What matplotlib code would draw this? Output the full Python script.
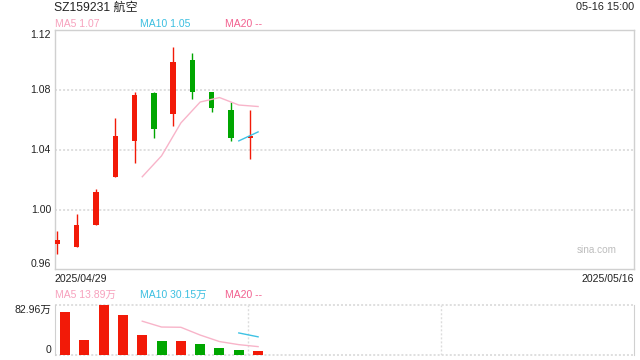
import matplotlib
matplotlib.use("Agg")
import matplotlib.pyplot as plt

plt.rcParams['font.family'] = ['Liberation Sans', 'Noto Sans CJK SC', 'DejaVu Sans']
plt.rcParams['lines.scale_dashes'] = False

# ---- data ----
dates = ["2025/04/29", "2025/04/30", "2025/05/06", "2025/05/07", "2025/05/08", "2025/05/09",
         "2025/05/12", "2025/05/13", "2025/05/14", "2025/05/15", "2025/05/16"]
opens = [0.977, 0.975, 0.990, 1.022, 1.046, 1.078, 1.064, 1.100, 1.079, 1.067, 1.048]
highs = [0.986, 0.997, 1.014, 1.061, 1.079, 1.079, 1.109, 1.105, 1.079, 1.072, 1.067]
lows = [0.970, 0.975, 0.990, 1.022, 1.031, 1.048, 1.056, 1.074, 1.065, 1.046, 1.034]
closes = [0.980, 0.990, 1.012, 1.049, 1.077, 1.054, 1.099, 1.079, 1.068, 1.048, 1.049]
volumes = [71.8, 25.4, 82.96, 66.4, 33.7, 23.5, 23.6, 18.5, 12.0, 8.6, 6.9]  # 万

ma5_price = [None, None, None, None, 1.022, 1.036, 1.058, 1.072, 1.075, 1.070, 1.069]
ma10_price = [None] * 9 + [1.046, 1.052]
ma5_vol = [None, None, None, None, 56.1, 46.4, 46.0, 33.1, 22.3, 17.2, 13.9]
ma10_vol = [None] * 9 + [36.6, 30.15]

price_ticks = [0.96, 1.00, 1.04, 1.08, 1.12]
price_tick_labels = ["0.96", "1.00", "1.04", "1.08", "1.12"]
vol_max_label = "82.96万"
title = "SZ159231 航空"
timestamp = "05-16 15:00"
legend_price = ["MA5 1.07", "MA10 1.05", "MA20 --"]
legend_vol = ["MA5 13.89万", "MA10 30.15万", "MA20 --"]

# ---- style ----
RED = '#f21a08'
GREEN = '#00a600'
MA5_C = '#f8b4c9'
MA10_C = '#3ec2e4'
MA5_T = '#f7a1bd'
MA10_T = '#3bbfe0'
MA20_T = '#f2608f'
SPINE = '#d0d0d0'
GRID = '#dcdcdc'
TXT = '#222222'

W, H = 640, 360
fig = plt.figure(figsize=(6.4, 3.6), dpi=100)
L, R = 54.5, 633.8
ax = fig.add_axes([L / W, 1 - 269.4 / H, (R - L) / W, (269.4 - 30.3) / H])
axv = fig.add_axes([L / W, 1 - 355 / H, (R - L) / W, (355 - 305) / H])

n = len(closes)
xs = list(range(n))
XL = (-0.145, 29.86)
MA_SHIFT = 0.4

# ---- price panel ----
for i in xs:
    o, c, hi, lo = opens[i], closes[i], highs[i], lows[i]
    col = RED if c >= o else GREEN
    ax.vlines(i, lo, hi, color=col, lw=1.0, zorder=3)
    h = max(abs(c - o), 0.0016)
    ax.bar(i, h, bottom=min(o, c), width=0.28, color=col, zorder=4, linewidth=0)

mx5 = [i + MA_SHIFT for i in xs if ma5_price[i] is not None]
my5 = [v for v in ma5_price if v is not None]
ax.plot(mx5, my5, color=MA5_C, lw=1.0, zorder=5)
mx10 = [i + MA_SHIFT for i in xs if ma10_price[i] is not None]
my10 = [v for v in ma10_price if v is not None]
ax.plot(mx10, my10, color=MA10_C, lw=1.0, zorder=5)

ax.set_xlim(*XL)
ax.set_ylim(price_ticks[0], price_ticks[-1])
for t in price_ticks[1:-1]:
    ax.axhline(t, color=GRID, lw=1.3, linestyle=(0, (1.45, 1.45)), zorder=1)
ax.set_xticks([])
ax.set_yticks([])
for s in ax.spines.values():
    s.set_color(SPINE)
    s.set_linewidth(1.0)

ytr = ax.get_yaxis_transform()
for t, lab in zip(price_ticks, price_tick_labels):
    va = 'top' if t == price_ticks[-1] else ('bottom' if t == price_ticks[0] else 'center')
    ax.text(-0.006, t, lab, transform=ytr, ha='right', va=va, fontsize=7.6, color=TXT)

# header texts
fig.text(L / W, 1 - 7.5 / H, title, ha='left', va='center', fontsize=8.7, color=TXT)
fig.text(R / W, 1 - 7.5 / H, timestamp, ha='right', va='center', fontsize=7.8, color=TXT)
for xpx, lab, col in zip([55, 140, 225], legend_price, [MA5_T, MA10_T, MA20_T]):
    fig.text(xpx / W, 1 - 24 / H, lab, ha='left', va='center', fontsize=7.5, color=col)

fig.text(L / W, 1 - 278.5 / H, dates[0], ha='left', va='center', fontsize=7.6, color=TXT)
fig.text(R / W, 1 - 278.5 / H, dates[-1], ha='right', va='center', fontsize=7.6, color=TXT)
ax.text(0.97, 0.08, "sina.com", transform=ax.transAxes, ha='right', va='center',
        fontsize=7.2, color='#bdbdbd')

# ---- volume panel ----
for i in xs:
    col = RED if closes[i] >= opens[i] else GREEN
    axv.bar(i + MA_SHIFT, volumes[i], width=0.52, color=col, linewidth=0, zorder=3)
vx5 = [i + MA_SHIFT for i in xs if ma5_vol[i] is not None]
vy5 = [v for v in ma5_vol if v is not None]
axv.plot(vx5, vy5, color=MA5_C, lw=1.0, zorder=4)
vx10 = [i + MA_SHIFT for i in xs if ma10_vol[i] is not None]
vy10 = [v for v in ma10_vol if v is not None]
axv.plot(vx10, vy10, color=MA10_C, lw=1.0, zorder=4)

axv.set_xlim(*XL)
axv.set_ylim(0, max(volumes))
axv.set_xticks([])
axv.set_yticks([])
axv.spines['left'].set_color(SPINE)
axv.spines['right'].set_color(SPINE)
axv.spines['top'].set_visible(False)
axv.spines['bottom'].set_visible(False)
dot = (0, (1.45, 1.45))
axv.plot([0, 1], [1, 1], transform=axv.transAxes, color=GRID, lw=1.3, linestyle=dot, clip_on=False, zorder=1)
axv.plot([0, 1], [0, 0], transform=axv.transAxes, color=GRID, lw=1.3, linestyle=dot, clip_on=False, zorder=1)
for fx in (1 / 3, 2 / 3):
    axv.plot([fx, fx], [0, 1], transform=axv.transAxes, color=GRID, lw=1.0, linestyle=dot, zorder=1)

vtr = axv.get_yaxis_transform()
axv.text(-0.006, max(volumes), vol_max_label, transform=vtr, ha='right', va='top', fontsize=7.6, color=TXT)
axv.text(-0.006, 0, "0", transform=vtr, ha='right', va='bottom', fontsize=7.6, color=TXT)
for xpx, lab, col in zip([55, 140, 225], legend_vol, [MA5_T, MA10_T, MA20_T]):
    fig.text(xpx / W, 1 - 295 / H, lab, ha='left', va='center', fontsize=7.5, color=col)

fig.savefig("out.png", dpi=100)
